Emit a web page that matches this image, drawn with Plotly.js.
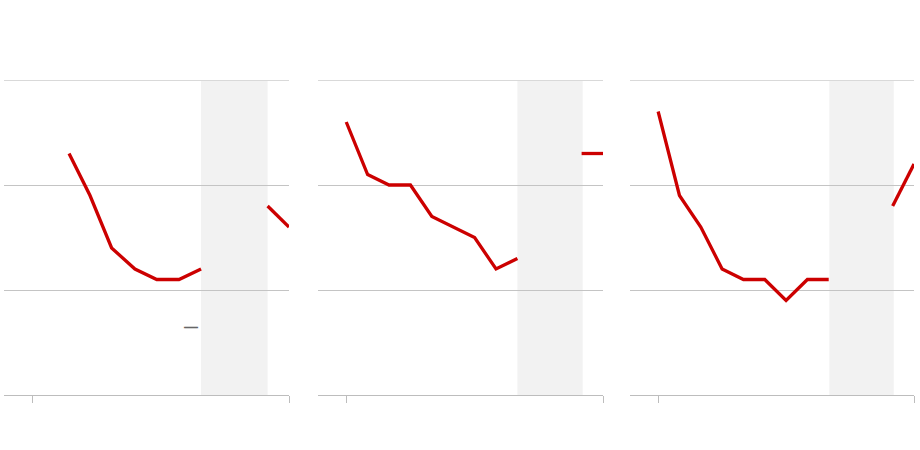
<!DOCTYPE html>
<html>
<head>
<meta charset="utf-8">
<script src="https://cdn.plot.ly/plotly-3.0.1.min.js"></script>
<style>html,body{margin:0;padding:0;background:#fff;}#chart{width:920px;height:450px;}</style>
</head>
<body>
<div id="chart"></div>
<script>
// ---- data ----
var p1X = [1.72, 2.70, 3.71, 4.80, 5.82, 6.86, 7.89, 9.5, 11, 12];
var p1Y = [23, 19, 14, 12, 11, 11, 12, null, 18, 16];
var p2X = [0, 1, 2, 3, 4, 5, 6, 7, 8, 9, 10, 11, 12];
var p2Y = [26, 21, 20, 20, 17, 16, 15, 12, 13, null, null, 23, 23];
var p3X = [0, 1, 2, 3, 4, 5, 6, 7, 8, 9, 10, 11, 12];
var p3Y = [27, 19, 16, 12, 11, 11, 9, 11, 11, null, null, 18, 22];
var shadeStart = [7.89, 8, 8.03];
var shadeEnd = [11, 11.05, 11.05];
var xTicks = [0, 12];
var xTickText = ['', ''];
var yGrid = [10, 20];
var yTop = 30;
var noteX = 7.4, noteY = 6.5, noteText = '<b>—</b>';

var RED = '#cc0000';
var traces = [
  {x: p1X, y: p1Y, xaxis: 'x', yaxis: 'y'},
  {x: p2X, y: p2Y, xaxis: 'x2', yaxis: 'y2'},
  {x: p3X, y: p3Y, xaxis: 'x3', yaxis: 'y3'}
].map(function (t) {
  return Object.assign(t, {type: 'scatter', mode: 'lines', connectgaps: false,
    line: {color: RED, width: 3.3}, hoverinfo: 'skip', showlegend: false});
});

var doms = [[4/920, 289/920], [318/920, 603/920], [630/920, 914/920]];
var yDom = [55/450, 370/450];

function xax(d) {
  return {domain: d, range: [-1.32, 12], showgrid: false, zeroline: false,
    showline: true, linecolor: '#bdbdbd', linewidth: 1,
    ticks: 'outside', ticklen: 7, tickcolor: '#bdbdbd', tickwidth: 1,
    tickvals: xTicks, ticktext: xTickText, showticklabels: false, fixedrange: true};
}
function yax(anchor) {
  return {domain: yDom, range: [0, yTop], anchor: anchor, showgrid: true,
    gridcolor: '#c4c4c4', gridwidth: 1, zeroline: false, showline: false,
    tickvals: yGrid, showticklabels: false, ticks: '', fixedrange: true};
}

var shapes = [];
var refs = [['x', 'y'], ['x2', 'y2'], ['x3', 'y3']];
for (var i = 0; i < 3; i++) {
  shapes.push({type: 'rect', xref: refs[i][0], yref: refs[i][1] + ' domain',
    x0: shadeStart[i], x1: shadeEnd[i], y0: 0, y1: 1,
    fillcolor: '#f2f2f2', line: {width: 0}, layer: 'below'});
  shapes.push({type: 'line', xref: refs[i][0] + ' domain', yref: refs[i][1],
    x0: 0, x1: 1, y0: yTop, y1: yTop,
    line: {color: '#d9d9d9', width: 2}, layer: 'below'});
}

var layout = {
  width: 920, height: 450,
  margin: {l: 0, r: 0, t: 0, b: 0},
  paper_bgcolor: '#ffffff', plot_bgcolor: 'rgba(0,0,0,0)',
  showlegend: false,
  xaxis: xax(doms[0]), xaxis2: xax(doms[1]), xaxis3: xax(doms[2]),
  yaxis: yax('x'), yaxis2: yax('x2'), yaxis3: yax('x3'),
  shapes: shapes,
  annotations: [{xref: 'x', yref: 'y', x: noteX, y: noteY, text: noteText,
    showarrow: false, font: {family: 'Liberation Sans, Arial, sans-serif', size: 14, color: '#666666'}}]
};
layout.xaxis2.anchor = 'y2';
layout.xaxis3.anchor = 'y3';

Plotly.newPlot('chart', traces, layout, {staticPlot: true, displayModeBar: false});
</script>
</body>
</html>
